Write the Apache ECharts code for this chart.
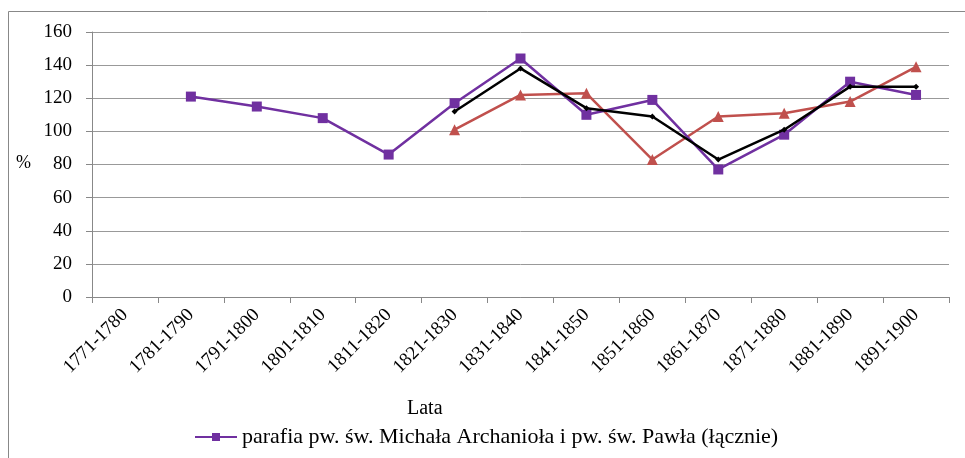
<!DOCTYPE html>
<html><head><meta charset="utf-8">
<script src="https://cdn.jsdelivr.net/npm/echarts@6/dist/echarts.min.js"></script>
<style>html,body{margin:0;padding:0;background:#fff}#c{width:965px;height:458px}</style>
</head><body><div id="c"></div>
<script>
const categories = ['1771-1780','1781-1790','1791-1800','1801-1810','1811-1820','1821-1830','1831-1840','1841-1850','1851-1860','1861-1870','1871-1880','1881-1890','1891-1900'];
const purpleName = 'parafia pw. św. Michała Archanioła i pw. św. Pawła (łącznie)';
const purpleValues = [null,121,115,108,86,117,144,110,119,77,98,130,122];
const redValues = [null,null,null,null,null,101,122,123,83,109,111,118,139];
const blackValues = [null,null,null,null,null,112,138,114,109,83,101,127,127];
const yTicks = {min:0,max:160,interval:20};
const serif = 'Liberation Serif';

const chart = echarts.init(document.getElementById('c'));
chart.setOption({
  animation:false,
  textStyle:{fontFamily:serif},
  graphic:[
    {type:'rect',shape:{x:8.5,y:11.5,width:1000,height:500},style:{fill:'none',stroke:'#888',lineWidth:1},z:-1},
    {type:'text',left:16,top:154,style:{text:'%',font:'18px "Liberation Serif"',fill:'#000'}},
    {type:'text',left:407,top:399,style:{text:'Lata',font:'20px "Liberation Serif"',fill:'#000'}}
  ],
  grid:{left:92,right:16,top:32,bottom:161,containLabel:false},
  legend:{bottom:5,left:189,data:[{name:purpleName}],itemWidth:42,itemHeight:10,
    textStyle:{fontFamily:serif,fontSize:22,color:'#000'},itemGap:5},
  xAxis:{type:'category',data:categories,boundaryGap:true,
    axisLine:{lineStyle:{color:'#888',width:1}},
    axisTick:{show:true,alignWithLabel:false,length:6,lineStyle:{color:'#888'}},
    axisLabel:{rotate:45,fontFamily:serif,fontSize:19,color:'#000',margin:15,interval:0}},
  yAxis:{type:'value',min:yTicks.min,max:yTicks.max,interval:yTicks.interval,
    axisLine:{show:true,lineStyle:{color:'#888'}},
    axisTick:{show:true,length:6,lineStyle:{color:'#888'}},
    splitLine:{lineStyle:{color:'#999',width:1}},
    axisLabel:{fontFamily:serif,fontSize:19,color:'#000',margin:20}},
  series:[
    {name:purpleName,type:'line',data:purpleValues,connectNulls:false,symbol:'rect',symbolSize:10,
      itemStyle:{color:'#7030A0'},lineStyle:{color:'#7030A0',width:2.5},z:3},
    {name:'r',type:'line',data:redValues,symbol:'triangle',symbolSize:11,
      itemStyle:{color:'#C0504D'},lineStyle:{color:'#C0504D',width:2.5},z:2},
    {name:'b',type:'line',data:blackValues,symbol:'diamond',symbolSize:6,
      itemStyle:{color:'#000'},lineStyle:{color:'#000',width:2.5},z:4}
  ]
});
</script></body></html>
